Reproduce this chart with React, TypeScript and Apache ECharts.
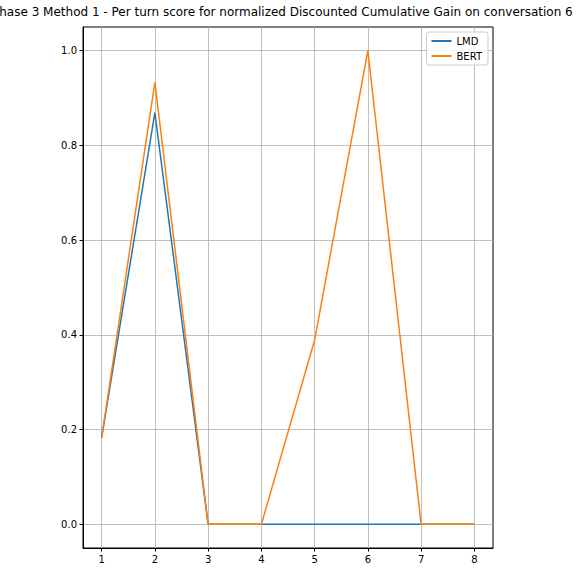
import React, { useEffect, useRef } from "react";
import * as echarts from "echarts";

const turns = [1, 2, 3, 4, 5, 6, 7, 8];
const lmdValues = [0.183, 0.869, 0, 0, 0, 0, 0, 0];
const bertValues = [0.183, 0.933, 0, 0, 0.389, 1.0, 0, 0];
const xTicks = [1, 2, 3, 4, 5, 6, 7, 8];
const yTicks = [0, 0.2, 0.4, 0.6, 0.8, 1.0];
const titleText =
  "Phase 3 Method 1 - Per turn score for normalized Discounted Cumulative Gain on conversation 6";

export default function App() {
  const ref = useRef<HTMLDivElement>(null);
  useEffect(() => {
    if (!ref.current) return;
    const chart = echarts.init(ref.current, null, { renderer: "svg" });
    const font = "DejaVu Sans";
    chart.setOption({
      animation: false,
      backgroundColor: "#ffffff",
      textStyle: { fontFamily: font },
      title: {
        text: titleText,
        left: -8,
        top: 6,
        padding: 0,
        textStyle: { fontFamily: font, fontSize: 12, fontWeight: "normal", color: "#000" },
      },
      legend: {
        orient: "vertical",
        right: 88,
        top: 32,
        padding: [4, 6, 4, 5],
        itemGap: 5,
        itemWidth: 20,
        itemHeight: 2,
        icon: "rect",
        borderColor: "#cccccc",
        borderWidth: 1,
        borderRadius: 3,
        backgroundColor: "rgba(255,255,255,0.8)",
        textStyle: { fontFamily: font, fontSize: 10, color: "#000" },
        data: ["LMD", "BERT"],
      },
      grid: {
        left: 83,
        right: 83,
        top: 27,
        bottom: 28,
        containLabel: false,
        show: true,
        borderColor: "#000",
        borderWidth: 1,
      },
      xAxis: {
        type: "value",
        min: 0.65,
        max: 8.35,
        axisLine: { show: true, onZero: false, lineStyle: { color: "#000", width: 1 } },
        axisTick: { show: true, length: 3.5, customValues: xTicks, lineStyle: { color: "#000" } },
        axisLabel: {
          customValues: xTicks,
          color: "#000",
          fontSize: 10,
          fontFamily: font,
          margin: 6,
          formatter: (v: number) => String(v),
        },
        splitLine: { show: true, lineStyle: { color: "#b0b0b0", width: 0.8 } },
      },
      yAxis: {
        type: "value",
        min: -0.05,
        max: 1.05,
        axisLine: { show: true, onZero: false, lineStyle: { color: "#000", width: 1 } },
        axisTick: { show: true, length: 3.5, customValues: yTicks, lineStyle: { color: "#000" } },
        axisLabel: {
          customValues: yTicks,
          color: "#000",
          fontSize: 10,
          fontFamily: font,
          margin: 6,
          formatter: (v: number) => v.toFixed(1),
        },
        splitLine: { show: true, lineStyle: { color: "#b0b0b0", width: 0.8 } },
      },
      series: [
        {
          name: "LMD",
          type: "line",
          data: turns.map((t, i) => [t, lmdValues[i]]),
          showSymbol: false,
          symbol: "none",
          lineStyle: { color: "#1f77b4", width: 1.5 },
          itemStyle: { color: "#1f77b4" },
          z: 3,
        },
        {
          name: "BERT",
          type: "line",
          data: turns.map((t, i) => [t, bertValues[i]]),
          showSymbol: false,
          symbol: "none",
          lineStyle: { color: "#ff7f0e", width: 1.5 },
          itemStyle: { color: "#ff7f0e" },
          z: 4,
        },
      ],
    });
    return () => chart.dispose();
  }, []);
  return (
    <div
      ref={ref}
      style={{ position: "fixed", left: 0, top: 0, width: 576, height: 576 }}
    />
  );
}
